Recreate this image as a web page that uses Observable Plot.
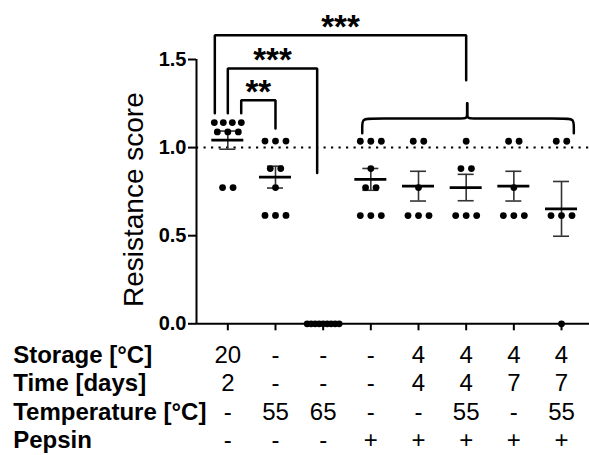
<!DOCTYPE html>
<html><head><meta charset="utf-8">
<script src="https://cdn.jsdelivr.net/npm/d3@7"></script>
<script src="https://cdn.jsdelivr.net/npm/@observablehq/plot@0.6"></script>
<style>body{margin:0;background:#fff} svg{display:block}</style>
</head><body><div id="chart"></div>
<script>
// ---- data ----
const rowLabels = ["Storage [°C]", "Time [days]", "Temperature [°C]", "Pepsin"];
const storage = ["20", "-", "-", "-", "4", "4", "4", "4"];
const time = ["2", "-", "-", "-", "4", "4", "7", "7"];
const temperature = ["-", "55", "65", "-", "-", "55", "-", "55"];
const pepsin = ["-", "-", "-", "+", "+", "+", "+", "+"];
const scores = [
  [1.142, 1.142, 1.142, 1.142, 1.089, 1.089, 1.089, 0.773, 0.773],
  [1.037, 1.037, 1.037, 0.881, 0.881, 0.773, 0.615, 0.615, 0.615],
  [0, 0, 0, 0, 0, 0, 0, 0, 0],
  [1.036, 1.036, 1.036, 0.881, 0.773, 0.773, 0.614, 0.614, 0.614],
  [1.036, 1.036, 0.773, 0.614, 0.614, 0.614],
  [1.036, 0.881, 0.881, 0.614, 0.614, 0.614],
  [1.036, 1.036, 0.773, 0.614, 0.614, 0.614],
  [1.036, 1.036, 0.614, 0.614, 0.614, 0]
];
const yTicks = [0, 0.5, 1.0, 1.5];
const reference = 1.0;
const comparisons = [
  {from: 0, to: 1, label: "**"},
  {from: 0, to: 2, label: "***"},
  {from: 0, to: 5, label: "***"}
];
const braceGroups = [3, 7];

// ---- layout ----
const W = 589, H = 455, ML = 196, MR = 0, MT = 59, MB = H - 323.3;
const xDomain = [-0.657, 7.587];
const step = (W - ML - MR) / (xDomain[1] - xDomain[0]);
const ky = (H - MT - MB) / 1.5;
const px = p => p / step;
const py = p => p / ky;

// dots arranged in centered rows per identical value
const dots = [];
scores.forEach((vals, g) => {
  const counts = d3.rollup(vals, v => v.length, v => v);
  const seen = new Map();
  vals.forEach(v => {
    const n = counts.get(v);
    const k = seen.get(v) || 0;
    seen.set(v, k + 1);
    const s = Math.min(10.5, 36 / n);
    dots.push({g, v, x: g + px((k - (n - 1) / 2) * s)});
  });
});
const stats = scores.map((vals, g) => {
  const m = d3.mean(vals), sem = d3.deviation(vals) / Math.sqrt(vals.length);
  return {g, mean: m, lo: m - sem, hi: m + sem};
});

// brackets
const bracketLayout = [
  {x1: comparisons[0].from + px(13.4), x2: comparisons[0].to, level: 1.269, y1: 1.195, y2: 1.108},
  {x1: comparisons[1].from, x2: comparisons[1].to + px(-6), level: 1.449, y1: 1.195, y2: 0.856},
  {x1: comparisons[2].from + px(-13), x2: comparisons[2].to, level: 1.638, y1: 1.195, y2: 1.382}
];
const bracketPts = bracketLayout.flatMap((b, i) => [
  {i, x: b.x1, y: b.y1}, {i, x: b.x1, y: b.level}, {i, x: b.x2, y: b.level}, {i, x: b.x2, y: b.y2}
]);
const bracketLabels = bracketLayout.map((b, i) => ({x: (b.x1 + b.x2) / 2, y: b.level, text: comparisons[i].label}));

// curly brace
const xL = braceGroups[0] + px(-8.6), xR = braceGroups[1] + px(12.3), xT = (braceGroups[0] + braceGroups[1]) / 2 + px(1);
const yB = 1.081, yT = 1.165, yTip = 1.252, rx = px(9), ry = py(9);
const bracePts = [
  {s: 0, x: xL, y: yB}, {s: 0, x: xL, y: yT - ry}, {s: 0, x: xL, y: yT}, {s: 0, x: xL + rx, y: yT},
  {s: 0, x: xT - rx, y: yT}, {s: 0, x: xT, y: yT}, {s: 0, x: xT, y: yT + ry * 0.5}, {s: 0, x: xT, y: yTip},
  {s: 1, x: xR, y: yB}, {s: 1, x: xR, y: yT - ry}, {s: 1, x: xR, y: yT}, {s: 1, x: xR - rx, y: yT},
  {s: 1, x: xT + rx, y: yT}, {s: 1, x: xT, y: yT}, {s: 1, x: xT, y: yT + ry * 0.5}, {s: 1, x: xT, y: yTip}
];

const colLabel = i => [storage[i], time[i], temperature[i], pepsin[i]].join("\n");

const chart = Plot.plot({
  width: W, height: H,
  marginLeft: ML, marginRight: MR, marginTop: MT, marginBottom: MB,
  x: {domain: xDomain},
  y: {domain: [0, 1.5]},
  style: {fontFamily: "'Liberation Sans', Arial, sans-serif", color: "black", background: "white", overflow: "visible"},
  marks: [
    Plot.ruleY([reference], {x1: xDomain[0], x2: xDomain[1], strokeWidth: 2, strokeDasharray: "2.2,5.3"}),
    Plot.ruleX([xDomain[0]], {y1: 0, y2: 1.5, strokeWidth: 2}),
    Plot.ruleY([0], {x1: xDomain[0], x2: xDomain[1], strokeWidth: 2}),
    Plot.axisY({ticks: yTicks, tickSize: 8, tickPadding: 2, tickFormat: d3.format(".1f"), fontSize: 20, fontWeight: "bold", strokeWidth: 2, label: null}),
    Plot.axisX({ticks: d3.range(8), tickSize: 7, tickPadding: 12, tickFormat: colLabel, fontSize: 24, lineHeight: 1.18, strokeWidth: 2, label: null}),
    Plot.text([rowLabels.join("\n")], {frameAnchor: "bottom-left", dx: -183.3, dy: 19, textAnchor: "start", lineAnchor: "top", fontSize: 24, fontWeight: "bold", lineHeight: 1.18}),
    Plot.text(["Resistance score"], {frameAnchor: "left", textAnchor: "middle", rotate: -90, dx: -62, dy: 8, fontSize: 28}),
    Plot.ruleX(stats, {x: "g", y1: "lo", y2: "hi", stroke: "#333", strokeWidth: 1.6}),
    Plot.ruleY(stats, {y: "hi", x1: d => d.g - px(8), x2: d => d.g + px(8), stroke: "#333", strokeWidth: 1.6}),
    Plot.ruleY(stats, {y: "lo", x1: d => d.g - px(8), x2: d => d.g + px(8), stroke: "#333", strokeWidth: 1.6}),
    Plot.dot(dots, {x: "x", y: "v", r: 3.4, fill: "black", stroke: "none"}),
    Plot.ruleY(stats, {y: "mean", x1: d => d.g - px(16), x2: d => d.g + px(16), stroke: "black", strokeWidth: 2.8}),
    Plot.line(bracketPts, {x: "x", y: "y", z: "i", stroke: "black", strokeWidth: 2.5, strokeLinejoin: "miter"}),
    Plot.text(bracketLabels, {x: "x", y: "y", text: "text", fontSize: 33, fontWeight: "bold", dy: -8, lineAnchor: "middle"}),
    Plot.line(bracePts, {x: "x", y: "y", z: "s", curve: "basis", stroke: "black", strokeWidth: 2.5})
  ]
});
document.getElementById("chart").appendChild(chart);
</script>
</body></html>
